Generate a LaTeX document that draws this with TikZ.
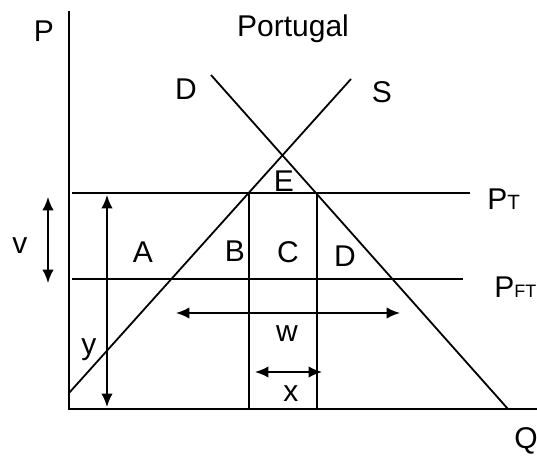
\documentclass[tikz,border=0pt]{standalone}
\usepackage{fontspec}
\setmainfont{Liberation Sans}
\usetikzlibrary{arrows.meta,positioning}

\begin{document}
\begin{tikzpicture}[x=0.75pt,y=-0.75pt,>={Latex[length=10pt,width=8.5pt]},
 font=\fontsize{22.5}{26}\selectfont,
 curve/.style={line width=1.35pt},
 axis/.style={line width=1.6pt},
 lbl/.style={anchor=base,inner sep=0pt}]
\useasboundingbox (0,0) rectangle (537,456);
\coordinate (o) at (69,409);
\coordinate (ptop) at (69,11);
\coordinate (qend) at (537,409);
\coordinate (s0) at (69,393);
\coordinate (s1) at (351,79);
\coordinate (d0) at (211,75);
\coordinate (d1) at (508,409);
\coordinate (t0) at (72,193);
\coordinate (t1) at (470,193);
\coordinate (f0) at (72,279);
\coordinate (f1) at (463,279);
\coordinate (b0) at (249,193);
\coordinate (b1) at (249,409);
\coordinate (c0) at (317,193);
\coordinate (c1) at (317,409);
\draw[axis] (ptop) -- (o) -- (qend);
\draw[curve] (s0) -- (s1);
\draw[curve] (d0) -- (d1);
\draw[curve] (t0) -- (t1);
\draw[curve] (f0) -- (f1);
\draw[curve] (b0) -- (b1);
\draw[curve] (c0) -- (c1);
\coordinate (v0) at (48,197);
\coordinate (v1) at (48,283);
\coordinate (y0) at (107,195);
\coordinate (y1) at (107,407);
\coordinate (w0) at (176,313);
\coordinate (w1) at (400,313);
\coordinate (x0) at (255,372);
\coordinate (x1) at (322,372);
\draw[curve,<->] (v0) -- (v1);
\draw[curve,<->] (y0) -- (y1);
\draw[curve,<->] (w0) -- (w1);
\draw[curve,<->] (x0) -- (x1);
\node[lbl] (plabel) at (44,42) {P};
\node[lbl] (qlabel) at (526,449) {Q};
\node[lbl] (title) at (293,37) {Portugal};
\node[lbl] (dlabel) at (186,100) {D};
\node[lbl] (slabel) at (382,103) {S};
\node[lbl] (elabel) at (284,192) {E};
\node[lbl,anchor=base west] (ptlabel) at (487,210) {P{\fontsize{15.5}{16}\selectfont T}};
\node[lbl,anchor=base west] (pftlabel) at (494,298) {P{\fontsize{13.5}{14}\selectfont FT}};
\node[lbl] (vlabel) at (20,254) {v};
\node[lbl] (alabel) at (143,263) {A};
\node[lbl] (blabel) at (235,262) {B};
\node[lbl] (clabel) at (288,263) {C};
\node[lbl] (dreg) at (345,267) {D};
\node[lbl] (wlabel) at (287,342) {w};
\node[lbl] (ylabel) at (89,355) {y};
\node[lbl] (xlabel) at (291,402) {x};
\end{tikzpicture}
\end{document}
